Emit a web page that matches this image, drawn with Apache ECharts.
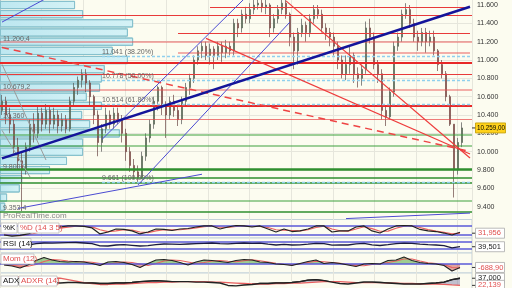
<!DOCTYPE html>
<html><head><meta charset="utf-8">
<script src="https://cdn.jsdelivr.net/npm/echarts@6.0.0/dist/echarts.min.js"></script>
<style>html,body{margin:0;padding:0;background:#fcfcf0;overflow:hidden}#c{width:512px;height:288px}</style>
</head><body><div id="c"></div>
<script>
// ---- price candles [open, close, low, high] ----
const candles = [
[10450,10550,10400,10620],[10550,10400,10300,10600],[10400,10300,10200,10480],[10300,10050,9980,10350],
[10050,9900,9800,10150],[9900,9800,9353,10000],[9800,10050,9750,10100],[10050,10300,10000,10350],
[10300,10200,10100,10420],[10200,10420,10150,10500],[10420,10300,10220,10480],[10300,10450,10250,10520],
[10450,10300,10200,10500],[10300,10400,10250,10480],[10400,10280,10200,10450],[10280,10350,10220,10420],
[10350,10250,10200,10400],[10250,10550,10220,10600],[10550,10700,10500,10750],[10700,10780,10620,10820],
[10780,10850,10700,10900],[10850,10750,10650,10900],[10750,10600,10500,10780],[10600,10400,10300,10620],
[10400,10100,9950,10450],[10100,10250,10000,10300],[10250,10400,10200,10480],[10400,10300,10250,10450],
[10300,10420,10250,10480],[10420,10350,10300,10480],[10350,10200,10100,10400],[10200,10000,9900,10250],
[10000,9850,9780,10050],[9850,9780,9700,9920],[9780,9720,9661,9850],[9720,9950,9700,10000],
[9950,10150,9900,10200],[10150,10300,10100,10350],[10300,10550,10250,10600],[10550,10700,10450,10720],
[10700,10500,10400,10720],[10500,10400,10150,10550],[10400,10550,10350,10600],[10550,10450,10380,10620],
[10450,10350,10280,10520],[10350,10550,10300,10600],[10550,10700,10500,10750],[10700,10800,10620,10850],
[10800,11000,10750,11050],[11000,11100,10950,11150],[11100,11150,11020,11200],[11150,11050,11000,11200],
[11050,11120,10950,11180],[11120,11050,10900,11150],[11050,11150,11000,11200],[11150,11080,10980,11200],
[11080,11150,11020,11220],[11150,11100,11050,11200],[11100,11400,11050,11450],[11400,11350,11250,11450],
[11350,11500,11300,11550],[11500,11450,11400,11580],[11450,11550,11400,11620],[11550,11600,11500,11680],
[11600,11620,11550,11700],[11620,11580,11520,11680],[11580,11600,11500,11680],[11600,11350,11250,11620],
[11350,11450,11300,11500],[11450,11550,11400,11600],[11550,11620,11500,11680],[11620,11500,11450,11680],
[11500,11250,11150,11520],[11250,11100,10900,11300],[11100,11300,10950,11350],[11300,11380,11250,11450],
[11380,11300,11200,11420],[11300,11450,11250,11500],[11450,11550,11400,11600],[11550,11500,11450,11600],
[11500,11350,11300,11550],[11350,11300,11220,11400],[11300,11250,11150,11350],[11250,11150,11050,11300],
[11150,11000,10900,11200],[11000,10850,10800,11050],[10850,10950,10780,11050],[10950,11050,10850,11150],
[11050,10850,10750,11080],[10850,10800,10700,10920],[10800,10900,10720,10950],[10900,11350,10850,11420],
[11350,11250,11180,11450],[11250,10950,10900,11300],[10950,10850,10750,11000],[10850,10450,10350,10900],
[10450,10380,10280,10500],[10380,10650,10350,10700],[10650,11150,10600,11200],[11150,11250,11100,11300],
[11250,11500,11200,11550],[11500,11550,11450,11620],[11550,11400,11350,11600],[11400,11250,11200,11450],
[11250,11200,11100,11320],[11200,11300,11150,11350],[11300,11200,11080,11350],[11200,11250,11150,11320],
[11250,11100,11050,11320],[11100,10950,10880,11120],[10950,10850,10800,11000],[10850,10600,10550,10880],
[10600,10300,10280,10620],[10300,9800,9500,10300],[9800,10100,9750,10150],[10100,10259,10050,10320]
];
const lastClose = 10259;
const priceTicks = [9400,9600,9800,10000,10200,10400,10600,10800,11000,11200,11400,11600];

// ---- volume by price (bin centres, relative volume) ----
const volumeBins = [11600,11500,11400,11300,11200,11100,11000,10900,10800,10700,10600,10500,10400,10300,10200,10100,10000,9900,9800,9700,9600,9500,9400];
const volumes = [159,176,282,271,282,239,271,222,216,212,184,216,174,191,254,176,176,142,106,47,42,15,11];
const volumeLabelPrices = [11200.4,10679.2,10360,9800,9353.4];
const volumeLabelTexts = ['11.200,4','10.679,2','10.360','9.800','9.353,4'];

// ---- drawn horizontal levels ----
const resistancePrices = [11578,11491,11295,11196,11076,10975,10847,10680,10498,10356];
const resistanceFrom   = [52,0,44,0,44,0,0,0,0,0];
const supportPrices = [10190,10065,9803,9720,9658,9465,9350];
const fibPrices = [11041,10778,10514,9661];
const fibPct = ['38.20%','50.00%','61.80%','100.00%'];
const fibFrom = 25;

// ---- drawn trend lines [startIdx, startPrice, endIdx, endPrice] ----
const trendBlueThick = [0,9927,117,11581];
const trendBlueThin = [[0,11414,12,11695],[25,10134,61,11687],[34,9637,72,11415],[4,9381,50,9754],[86,9270,117,9330]];
const trendRed = [[51,11236,117,9975],[71,11645,117,9931]];
const trendRedDashed = [0,11137,117,10003];
const trendGray = [[0,10953,11,9909],[0,10233,7,9724]];

// ---- indicators (every second bar) ----
const stochK = [20,13,17,27,47,60,67,73,80,80,77,67,27,40,60,57,47,27,40,60,57,50,60,63,73,80,80,60,73,83,80,73,80,60,40,60,43,47,60,80,80,40,47,47,73,80,47,33,60,80,83,80,57,47,43,33,20,38];
const stochD = [25,18,16,20,33,47,58,66,72,78,79,74,55,42,47,55,52,40,36,47,55,54,55,60,67,76,80,72,70,77,80,77,77,70,55,52,50,48,55,70,79,60,48,46,60,75,62,45,46,65,79,82,70,56,46,38,28,31.956];
const rsi = [42,38,44,50,58,62,61,63,64,65,62,58,45,44,50,52,48,44,46,52,56,55,54,56,58,60,62,58,57,60,62,60,61,55,50,54,50,51,55,60,58,49,50,50,57,60,51,47,52,58,61,60,55,52,50,46,32,39.501];
const mom = [-200,-400,-800,-200,700,1300,800,500,400,500,400,100,-300,400,500,300,-100,-700,100,800,900,700,300,-200,400,800,700,500,300,700,900,800,400,300,0,-100,-300,100,500,800,100,300,100,-200,-500,0,100,0,700,800,1400,700,300,100,0,-300,-1400,-688.9];
const momSignal = [-100,-250,-450,-450,-100,500,900,800,600,450,450,350,100,0,200,400,300,0,-300,100,600,800,700,400,100,300,600,700,550,450,650,850,650,400,150,-50,-150,0,300,550,450,300,150,-50,-300,-350,-100,0,300,600,1000,1000,600,250,100,-100,-700,-800];
const adx = [26,26,25,26,27,27,28,27,28,28,27,27,26,26,27,27,28,30,31,32,31,30,30,30,29,29,28,27,22,21,23,24,26,26,27,27,28,30,33,34,32,29,26,25,27,29,29,28,27,26,25,25,25,26,27,29,34,37];
const adxr = [40,40,40,40,39,38,38,37,34,31,28,26,24,24,25,25,26,27,28,28,29,29,30,30,30,30,29,29,28,27,26,25,25,25,26,26,27,27,28,29,30,30,30,29,28,28,28,28,27,27,26,26,25,25,25,24,23,22.139];

const BG = '#fcfcf0';
const FONT = 'Liberation Sans, Arial, sans-serif';
const fmtP = v => (v/1000).toFixed(3);
const fmtC = (v,d) => v.toFixed(d).replace('.',',');
const mainSlots = Array.from({length:118},(_,i)=>i);
const indSlots = Array.from({length:59},(_,i)=>i);
const momUp = mom.map(v=>Math.max(v,0));
const momDown = mom.map(v=>Math.min(v,0));

const chart = echarts.init(document.getElementById('c'));

const resStyle = ['thin','thin','thin','pink','pink','thick','thin','pink','thick','pinkthin'];
const supStyle = ['light','light','thickg','dark','dark','light','dark'];
const styleMap = {
  thin:{color:'#e83a3a',width:1,type:'solid'}, thick:{color:'#e82828',width:2.2,type:'solid'},
  pink:{color:'rgba(232,80,80,0.45)',width:2,type:'solid'}, pinkthin:{color:'rgba(232,70,70,0.7)',width:1.2,type:'solid'},
  light:{color:'rgba(60,160,60,0.5)',width:2,type:'solid'}, dark:{color:'#2f8f2f',width:1.6,type:'solid'},
  thickg:{color:'#2f8f2f',width:2.6,type:'solid'}
};
const levelItems = [];
resistancePrices.forEach((p,i)=>{
  const ls = styleMap[resStyle[i]];
  if (resistanceFrom[i]===0) levelItems.push({yAxis:p, lineStyle:ls});
  else levelItems.push([{coord:[resistanceFrom[i],p], lineStyle:ls},{coord:[117,p]}]);
});
supportPrices.forEach((p,i)=>{ levelItems.push({yAxis:p, lineStyle:styleMap[supStyle[i]]}); });
fibPrices.forEach((p,i)=>{
  levelItems.push([{coord:[fibFrom,p], lineStyle:{color:'#8fd0ee',width:1.4,type:[3,2]},
    label:{show:true,position:'insideStartTop',formatter:fmtP(p)+' ('+fibPct[i]+')',fontSize:7,fontFamily:FONT,color:'#666',distance:[0,1]}},
    {coord:[117,p]}]);
});

const trendItems = [];
const seg = (t, ls) => trendItems.push([{coord:[t[0],t[1]], lineStyle:ls},{coord:[t[2],t[3]]}]);
trendGray.forEach(t=>seg(t,{color:'#9a9a9a',width:1,type:'solid'}));
seg(trendRedDashed,{color:'#ee4444',width:1.5,type:[7,5]});
trendRed.forEach(t=>seg(t,{color:'#ee3c3c',width:1.2,type:'solid'}));
trendBlueThin.forEach(t=>seg(t,{color:'#4b4bd2',width:1,type:'solid'}));
seg(trendBlueThick,{color:'#14149a',width:2.6,type:'solid'});

const vAxis = (g)=>({gridIndex:g,type:'value',min:0,max:472/41.6,interval:1,
  axisLine:{show:false},axisTick:{show:false},axisLabel:{show:false},
  splitLine:{show:true,lineStyle:{color:'#e6e6dc',width:1}}});
const hidCat = (g,d)=>({gridIndex:g,type:'category',data:d,show:false,boundaryGap:true});
const hidVal = (g,min,max)=>({gridIndex:g,type:'value',min:min,max:max,show:false});
const panelGrid = (top,h)=>({left:0,top:top,width:472,height:h,show:true,backgroundColor:BG,borderColor:'#c4d2da',borderWidth:1,outerBoundsMode:'none',containLabel:false});
const hline = (v)=>({symbol:['none','none'],silent:true,label:{show:false},lineStyle:{color:'#5a5ad8',width:1.5,type:'solid'},data:[{yAxis:v}]});

const option = {
  animation:false,
  backgroundColor:BG,
  grid:[
    {left:0,top:-13.3,width:472,height:238.3,show:false,outerBoundsMode:'none',containLabel:false},
    {left:0,top:0.42,width:472,height:210.9,show:false,outerBoundsMode:'none',containLabel:false},
    panelGrid(219.5,18.5),
    panelGrid(238,15),
    panelGrid(253,20),
    panelGrid(273,23)
  ],
  xAxis:[
    hidCat(0,mainSlots), vAxis(0),
    {gridIndex:1,type:'value',min:0,max:1000,show:false},
    hidCat(2,indSlots), vAxis(2),
    hidCat(3,indSlots), vAxis(3),
    hidCat(4,indSlots), vAxis(4),
    hidCat(5,indSlots), vAxis(5)
  ],
  yAxis:[
    {gridIndex:0,type:'value',position:'right',min:9200,max:11800,interval:200,
     axisLine:{show:true,lineStyle:{color:'#b8c4cc'}},
     axisTick:{show:true,length:3,lineStyle:{color:'#444'},customValues:priceTicks},
     axisLabel:{fontSize:7,fontFamily:FONT,color:'#333',margin:5,showMinLabel:false,showMaxLabel:false,formatter:v=>fmtP(v)},
     splitLine:{show:true,showMinLine:false,showMaxLine:false,lineStyle:{color:'#e6e6dc'}}},
    {gridIndex:1,type:'category',inverse:true,data:volumeBins,show:false},
    hidVal(2,0,123),
    hidVal(3,1.5,92.4),
    hidVal(4,-1800,2200),
    hidVal(5,0,47.9)
  ],
  series:[
    {type:'bar',xAxisIndex:2,yAxisIndex:1,data:volumes,barCategoryGap:'10%',silent:true,z:1,
     itemStyle:{color:new echarts.graphic.LinearGradient(0,0,1,0,[{offset:0,color:'#bde7f0'},{offset:1,color:'#d4f2f6'}]),borderColor:'#86c1cd',borderWidth:1}},
    {type:'line',xAxisIndex:0,yAxisIndex:0,data:[],z:2,silent:true,
     markLine:{symbol:['none','none'],silent:true,animation:false,label:{show:false},data:levelItems}},
    {type:'candlestick',xAxisIndex:0,yAxisIndex:0,data:candles,barMaxWidth:3.4,z:3,silent:true,
     itemStyle:{color:'#5fae50',color0:'#c45f58',borderColor:'#555',borderColor0:'#6a4644',borderWidth:0.7}},
    {type:'line',xAxisIndex:0,yAxisIndex:0,data:[],z:4,silent:true,
     markLine:{symbol:['none','none'],silent:true,animation:false,label:{show:false},data:trendItems}},
    // %K / %D
    {type:'line',xAxisIndex:3,yAxisIndex:2,data:stochD,symbol:'none',lineStyle:{color:'#e86060',width:1.2},z:4},
    {type:'line',xAxisIndex:3,yAxisIndex:2,data:stochK,symbol:'none',lineStyle:{color:'#222',width:1.2},z:5},
    {type:'line',xAxisIndex:3,yAxisIndex:2,data:[],z:3,markLine:hline(80)},
    {type:'line',xAxisIndex:3,yAxisIndex:2,data:[],z:3,markLine:hline(20)},
    // RSI
    {type:'line',xAxisIndex:5,yAxisIndex:3,data:rsi,symbol:'none',lineStyle:{color:'#1a1a40',width:1.3},z:5},
    {type:'line',xAxisIndex:5,yAxisIndex:3,data:[],z:3,markLine:hline(70)},
    {type:'line',xAxisIndex:5,yAxisIndex:3,data:[],z:3,markLine:hline(30)},
    // Momentum
    {type:'line',xAxisIndex:7,yAxisIndex:4,data:momUp,symbol:'none',lineStyle:{width:0},areaStyle:{color:'rgba(96,172,80,0.6)',opacity:1},z:2},
    {type:'line',xAxisIndex:7,yAxisIndex:4,data:momDown,symbol:'none',lineStyle:{width:0},areaStyle:{color:'rgba(206,104,100,0.6)',opacity:1},z:2},
    {type:'line',xAxisIndex:7,yAxisIndex:4,data:[],z:3,markLine:hline(1e-9)},
    {type:'line',xAxisIndex:7,yAxisIndex:4,data:momSignal,symbol:'none',lineStyle:{color:'#e86060',width:1.1},z:4},
    {type:'line',xAxisIndex:7,yAxisIndex:4,data:mom,symbol:'none',lineStyle:{color:'#222',width:1.1},z:5},
    // ADX / ADXR
    {type:'line',xAxisIndex:9,yAxisIndex:5,data:adx,symbol:'none',lineStyle:{color:'#222',width:1.4},areaStyle:{color:'rgba(120,120,165,0.45)',opacity:1},z:3},
    {type:'line',xAxisIndex:9,yAxisIndex:5,data:adxr,symbol:'none',lineStyle:{color:'#e86060',width:1.3},areaStyle:{color:BG,opacity:1},z:4},
    {type:'line',xAxisIndex:9,yAxisIndex:5,data:adx,symbol:'none',lineStyle:{color:'#222',width:1.4},z:5}
  ]
};
chart.setOption(option);

// ---- labels placed from data ----
const g = [];
const py = (xi,yi,v)=>chart.convertToPixel({xAxisIndex:xi,yAxisIndex:yi},[0,v])[1];
volumeLabelPrices.forEach((p,i)=>{
  g.push({type:'text',x:3,y:py(0,0,p)+1,z:50,style:{text:volumeLabelTexts[i],fontSize:7,fontFamily:FONT,fill:'#666',verticalAlign:'bottom'}});
});
g.push({type:'text',x:3,y:215.5,z:50,style:{text:'ProRealTime.com',fontSize:8,fontFamily:FONT,fill:'#8a8a8a',verticalAlign:'middle'}});
const yl = py(0,0,lastClose);
g.push({type:'line',z:60,shape:{x1:472,y1:yl,x2:476,y2:yl},style:{stroke:'#333',lineWidth:1}});
g.push({type:'rect',z:60,shape:{x:475.5,y:yl-5,width:30,height:10},style:{fill:'#ffd21c',stroke:'#c09a00',lineWidth:0.8}});
g.push({type:'text',z:61,x:477,y:yl,style:{text:fmtP(lastClose)+',00',fontSize:6.3,fontFamily:FONT,fill:'#000',verticalAlign:'middle'}});
const box = (y,txt,color)=>{
  g.push({type:'line',z:60,shape:{x1:472,y1:y,x2:476,y2:y},style:{stroke:'#333',lineWidth:1}});
  g.push({type:'rect',z:60,shape:{x:475.5,y:y-5,width:29,height:10},style:{fill:'#fff',stroke:'#aaa',lineWidth:0.8}});
  g.push({type:'text',z:61,x:478,y:y,style:{text:txt,fontSize:7.5,fontFamily:FONT,fill:color,verticalAlign:'middle'}});
};
const L = stochD.length-1;
box(py(3,2,stochD[L]),fmtC(stochD[L],3),'#e05050');
box(py(5,3,rsi[L]),fmtC(rsi[L],3),'#222');
box(py(7,4,mom[L]),fmtC(mom[L],2),'#e05050');
box(py(9,5,adx[L]),fmtC(adx[L],3),'#222');
box(py(9,5,adxr[L]),fmtC(adxr[L],3),'#e05050');
const tag = (x,y,txt,color,w)=>{
  g.push({type:'rect',z:70,shape:{x:x,y:y-5,width:w,height:10},style:{fill:'#fff',stroke:'#bbb',lineWidth:0.8}});
  g.push({type:'text',z:71,x:x+2,y:y,style:{text:txt,fontSize:8,fontFamily:FONT,fill:color,verticalAlign:'middle'}});
};
tag(1,228,'%K','#111',16); tag(18,228,'%D (14 3 5)','#e05050',41);
tag(1,243.5,'RSI (14)','#111',30);
tag(1,259,'Mom (12)','#e05050',33);
tag(1,281,'ADX','#111',17); tag(19,281,'ADXR (14)','#e05050',38);
chart.setOption({graphic:g});
</script>
</body></html>
